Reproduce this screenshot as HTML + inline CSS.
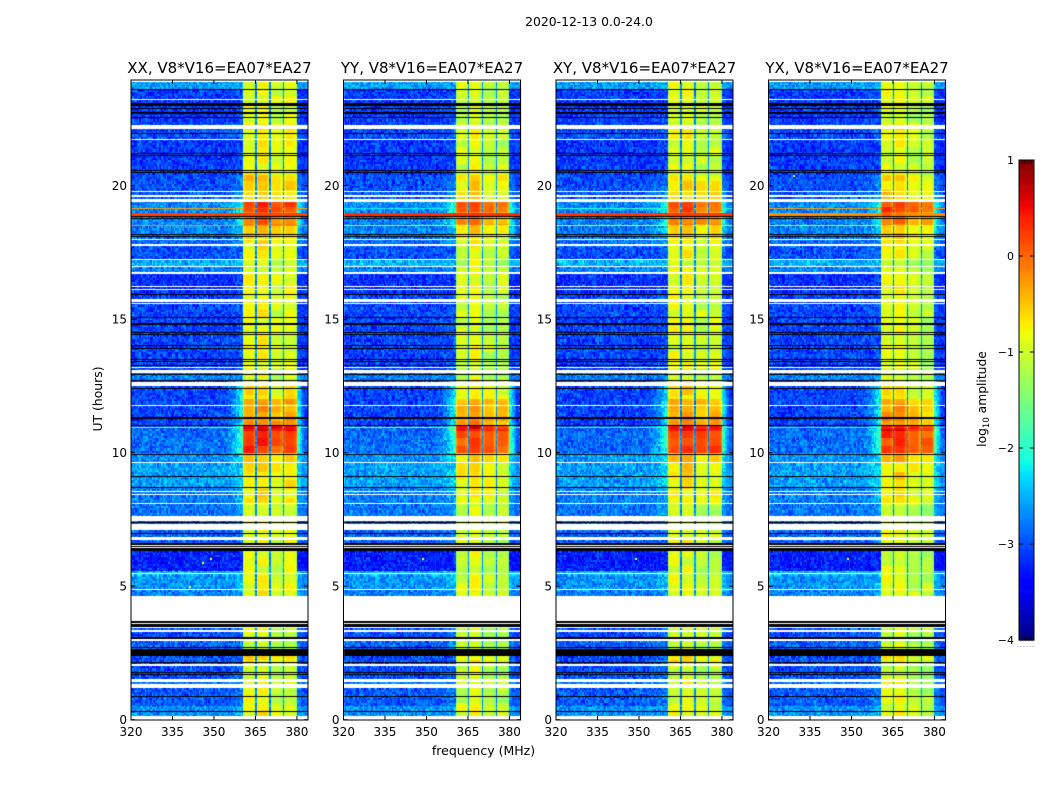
<!DOCTYPE html>
<html lang="en">
<head>
<meta charset="utf-8">
<title>2020-12-13 0.0-24.0</title>
<style>
html,body{margin:0;padding:0;background:#fff;width:1050px;height:800px;overflow:hidden}
#fig{position:relative;width:1050px;height:800px;background:#fff}
canvas{position:absolute;left:0;top:0}
svg{position:absolute;left:0;top:0}
text{font-family:"DejaVu Sans","Liberation Sans",sans-serif;fill:#000}
</style>
</head>
<body>
<div id="fig">
<canvas id="heat" width="1050" height="800"></canvas>
<svg id="ov" width="1050" height="800" viewBox="0 0 1050 800">
<text x="589" y="26" font-size="12.4" text-anchor="middle">2020-12-13 0.0-24.0</text>
<text x="483.500" y="755" font-size="12.5" text-anchor="middle">frequency (MHz)</text>
<text transform="translate(102,399) rotate(-90)" font-size="12.4" text-anchor="middle">UT (hours)</text>
<text transform="translate(986,399) rotate(-90)" font-size="12.3" text-anchor="middle">log<tspan font-size="8.5" dy="3">10</tspan><tspan dy="-3"> amplitude</tspan></text>
</svg>
</div>
<script>
// ---- axis data ----
const panelTitles = ["XX, V8*V16=EA07*EA27","YY, V8*V16=EA07*EA27","XY, V8*V16=EA07*EA27","YX, V8*V16=EA07*EA27"];
const freqTicks = [320,335,350,365,380];
const hourTicks = [0,5,10,15,20];
const colorbarTicks = [1,0,-1,-2,-3,-4];

// ---- time segments: start hour, off-band level, in-band level, leakage level near the band edge ----
const segStart = [0,0.5,1.2,1.5,2.1,2.4,2.6,3.05,3.3,4.62,4.85,5.4,5.55,6.4,7.6,8.1,8.7,9.1,9.6,10.0,10.77,11.0,11.3,12.0,12.7,13.0,15.9,16.7,16.95,17.2,17.7,18.1,18.5,19.0,19.5,19.8,20.4,21.0,21.7,22.3,23.0,23.6];
const offLevel = [-2.65,-2.95,-2.8,-3.0,-3.0,-3.2,-2.9,-3.0,-2.95,-2.75,-2.65,-2.5,-3.25,-2.9,-2.8,-2.75,-2.6,-2.6,-2.65,-2.85,-2.9,-3.05,-3.05,-3.05,-2.75,-3.05,-3.15,-2.75,-2.5,-3.0,-2.85,-2.75,-2.75,-2.7,-2.95,-3.0,-3.1,-3.1,-3.0,-3.1,-3.1,-2.6];
const bandLevel = [-0.85,-0.95,-0.9,-1.0,-0.7,-1.0,-1.05,-1.0,-0.95,-0.85,-0.9,-1.0,-0.95,-0.9,-1.0,-0.75,-0.7,-0.65,-0.5,0.22,0.5,-0.22,-0.35,-0.7,-0.95,-0.9,-0.85,-0.95,-1.0,-0.85,-0.75,-0.55,-0.12,0.15,-0.6,-0.6,-0.9,-0.9,-0.8,-1.0,-0.9,-0.9];
const leakLevel = [-2.5,-2.75,-2.6,-2.8,-2.8,-3.15,-2.7,-2.8,-2.75,-2.55,-2.4,-2.35,-3.2,-2.75,-2.55,-2.45,-2.25,-2.25,-2.15,-1.75,-1.65,-2.1,-2.0,-2.1,-2.6,-2.95,-3.05,-2.7,-2.45,-2.85,-2.55,-2.25,-2.0,-1.95,-2.6,-2.7,-3.0,-3.0,-2.85,-3.0,-3.0,-2.5];

// ---- flagged rows (hours) ----
const whiteStart = [0,1.18,1.40,2.00,2.96,3.28,3.44,3.60,3.66,4.81,5.41,6.42,6.52,6.72,7.10,7.43,8.07,8.39,8.50,9.59,11.74,12.45,12.98,13.03,13.16,15.54,15.63,16.08,16.20,16.65,16.95,17.19,17.75,17.96,19.38,19.53,19.76,21.72,22.12,23.20,23.88];
const whiteEnd = [0.09,1.29,1.50,2.08,3.03,3.33,3.476,3.625,4.625,4.87,5.45,6.48,6.55,6.84,7.32,7.64,8.11,8.43,8.54,9.63,11.78,12.64,13.02,13.07,13.20,15.58,15.75,16.12,16.24,16.76,16.99,17.23,17.79,18.00,19.49,19.61,19.80,21.76,22.28,23.24,24];
const blackHours = [0.28,0.85,1.70,1.76,2.12,2.68,3.05,6.97,7.36,8.71,9.10,9.94,11.03,11.12,11.29,12.42,12.70,12.94,13.24,13.43,13.50,13.88,14.03,14.40,14.49,14.83,15.06,15.94,18.09,18.18,18.78,18.85,20.49,20.58,21.12,21.20,21.93,22.40,22.52,22.71,22.75,22.88,23.62];
const blackBandStart = [2.39,3.476,3.625,6.31,6.48,6.55,23.00];
const blackBandEnd = [2.62,3.60,3.66,6.42,6.52,6.59,23.07];

// ---- bright full-width rows: hour, level for XX, YY, XY, YX ----
const brightHours = [10.92,18.90,18.94,19.12,18.48];
const brightXX = [-1.6,0.2,0.2,-0.3,-0.2];
const brightYY = [-1.4,0.3,0.3,-2.2,-1.2];
const brightXY = [-1.9,0.25,0.25,-2.0,-0.9];
const brightYX = [-2.0,-0.2,-0.2,-0.3,-1.0];

// ---- per-panel sub-band offsets for 360-365, 365-370, 370-375, 375-380 MHz ----
const subbandXX = [0.05,0.12,-0.1,0.02];
const subbandYY = [-0.08,0.08,-0.16,-0.2];
const subbandXY = [0.02,0.08,-0.12,-0.08];
const subbandYX = [0.02,0.07,-0.16,-0.2];

// ---- hand-typed speckle table for receiver noise ----
const speckle = [0.31,-0.72,0.12,0.85,-0.21,-0.54,0.44,-0.09,0.67,-0.93,0.18,-0.36,0.58,0.03,-0.68,0.26,-0.14,0.91,-0.47,0.07,-0.81,0.39,0.15,-0.28,0.73,-0.61,-0.02,0.49,-0.35,0.22,-0.88,0.62,0.09,-0.44,0.34,-0.17,0.79,-0.58,0.28,-0.05,-0.76,0.53,0.11,-0.31,0.96,-0.66,0.2,-0.12,0.42,-0.51,0.69,-0.24,0.05,-0.85,0.37,0.16,-0.39,0.57,-0.07,-0.63,0.83,-0.19,0.29,-0.98,0.47,0.01,-0.33,0.65,-0.55,0.24,-0.11,0.75,-0.42,0.13,-0.71,0.51,-0.26,0.35,-0.03,-0.59,0.88,-0.16,0.19,-0.48,0.61,-0.83,0.08,0.41,-0.23,-0.64,0.71,0.27,-0.37,0.04,-0.78,0.55,-0.15,0.33,-0.52,0.93,-0.08];

// ---- hot pixels: panel index, MHz, hour ----
const hotPanel = [0,0,0,1,2,3,3];
const hotFreq = [348.5,345.5,341.0,348.5,348.5,348.5,329.0];
const hotHour = [6.06,5.9,5.0,6.05,6.05,6.05,20.4];

// ---- layout ----
const panelLeft = [131,343.5,556,768.5];
const panelWidth = 177;
const axTop = 80, axBottom = 720;
const freqMin = 320, freqMax = 384;
const hourScale = 26.7;
const chanWidth = 0.5, rowHeight = 0.04;
const cbLeft = 1019, cbWidth = 15, cbTop = 160, cbBottom = 640;
const subbandTable = [subbandXX,subbandYY,subbandXY,subbandYX];
const brightTable = [brightXX,brightYY,brightXY,brightYX];

function xScale(p, f){ return panelLeft[p] + (f - freqMin) * panelWidth / (freqMax - freqMin); }
function yScale(h){ return 719.7 - h * hourScale; }
function cbScale(v){ return cbBottom - (v + 4) * (cbBottom - cbTop) / 5; }

function ramp(v, pts){
  for (let i = 1; i < pts.length; i++) {
    if (v <= pts[i][0]) {
      const a = pts[i-1], b = pts[i];
      return a[1] + (b[1] - a[1]) * (v - a[0]) / (b[0] - a[0]);
    }
  }
  return pts[pts.length-1][1];
}
function jet(level){
  const v = Math.max(0, Math.min(1, (level + 4) / 5));
  const r = ramp(v, [[0,0],[0.35,0],[0.66,1],[0.89,1],[1,0.5]]);
  const g = ramp(v, [[0,0],[0.125,0],[0.375,1],[0.64,1],[0.91,0],[1,0]]);
  const b = ramp(v, [[0,0.5],[0.11,1],[0.34,1],[0.65,0],[1,0]]);
  return 'rgb(' + Math.round(r*255) + ',' + Math.round(g*255) + ',' + Math.round(b*255) + ')';
}
function segmentIndex(h){
  let k = 0;
  for (let i = 0; i < segStart.length; i++) { if (h >= segStart[i]) k = i; }
  return k;
}
function rowState(h){
  for (let i = 0; i < whiteStart.length; i++) { if (h >= whiteStart[i] && h < whiteEnd[i]) return 'white'; }
  for (let i = 0; i < blackBandStart.length; i++) { if (h >= blackBandStart[i] && h < blackBandEnd[i]) return 'black'; }
  for (let i = 0; i < blackHours.length; i++) { if (blackHours[i] >= h && blackHours[i] < h + rowHeight) return 'black'; }
  return 'data';
}
function noiseAt(a, b, p){
  return speckle[Math.abs(a*a*3 + b*b*5 + a*b*7 + p*11) % speckle.length];
}
function cellLevel(p, f, r, c, k){
  const n = noiseAt(r >> 1, c, p);
  const off = offLevel[k];
  const inBand = f >= 360.4 && f < 380;
  if (inBand) {
    if (f === 365 || f === 370 || f === 375) return -2.7 + n * 0.25;
    const sb = Math.min(3, Math.floor((f - 360) / 5));
    const edgeLow = sb === 0 ? 360.4 : 360 + sb * 5;
    const d = Math.min(f + chanWidth - edgeLow, 360 + (sb + 1) * 5 - f);
    const dome = 0.45 * Math.max(0, 1 - d / 1.3);
    const patch = noiseAt(r >> 3, sb + 3, p) * 0.2;
    return bandLevel[k] + subbandTable[p][sb] + patch - dome + n * 0.05;
  }
  if (f >= 380) {
    const t = Math.max(0, 1 - (f - 380) / 2.5);
    return off - 0.05 + (leakLevel[k] - off) * t + n * 0.28;
  }
  if (f >= 352) {
    const t = (f - 352) / 8.4;
    return off + (leakLevel[k] - off) * t * t + n * 0.38;
  }
  return off + n * 0.42;
}

// ---- draw the heatmaps ----
const ctx = document.getElementById('heat').getContext('2d');
const nChan = Math.round((freqMax - freqMin) / chanWidth);
const nRow = Math.round(24 / rowHeight);
for (let p = 0; p < 4; p++) {
  for (let r = 0; r < nRow; r++) {
    const h = r * rowHeight;
    const state = rowState(h);
    if (state === 'white') continue;
    const y0 = Math.round(yScale(h + rowHeight));
    const y1 = Math.round(yScale(h));
    if (y1 <= axTop || y1 === y0) continue;
    if (state === 'black') {
      ctx.fillStyle = '#000';
      ctx.fillRect(Math.round(xScale(p, freqMin)), y0, panelWidth, y1 - y0);
      continue;
    }
    const k = segmentIndex(h);
    let bright = null;
    for (let b = 0; b < brightHours.length; b++) {
      if (brightHours[b] >= h && brightHours[b] < h + rowHeight) bright = brightTable[p][b];
    }
    for (let c = 0; c < nChan; c++) {
      const f = freqMin + c * chanWidth;
      let level = cellLevel(p, f, r, c, k);
      if (bright !== null && bright > level) level = bright;
      const x0 = Math.round(xScale(p, f));
      const x1 = Math.round(xScale(p, f + chanWidth));
      ctx.fillStyle = jet(level);
      ctx.fillRect(x0, y0, x1 - x0, y1 - y0);
    }
  }
  for (let i = 0; i < hotPanel.length; i++) {
    if (hotPanel[i] !== p) continue;
    ctx.fillStyle = jet(-0.8);
    ctx.fillRect(Math.round(xScale(p, hotFreq[i])), Math.round(yScale(hotHour[i])), 2, 2);
  }
}
// colour bar
const cbRows = 256;
for (let i = 0; i < cbRows; i++) {
  const lv = -4 + 5 * (i + 0.5) / cbRows;
  const y1 = cbScale(-4 + 5 * i / cbRows);
  const y0 = cbScale(-4 + 5 * (i + 1) / cbRows);
  ctx.fillStyle = jet(lv);
  ctx.fillRect(cbLeft, y0, cbWidth, y1 - y0 + 0.6);
}

// ---- SVG overlay ----
const ov = document.getElementById('ov');
const NS = 'http://www.w3.org/2000/svg';
function mk(tag, attrs){
  const el = document.createElementNS(NS, tag);
  for (const a in attrs) el.setAttribute(a, attrs[a]);
  ov.appendChild(el);
  return el;
}
for (let p = 0; p < 4; p++) {
  const L = panelLeft[p];
  const frame = mk('rect', {x:L, y:axTop, width:panelWidth, height:axBottom-axTop, fill:'none', stroke:'#000', 'stroke-width':1});
  
  
  const title = mk('text', {x:L+panelWidth/2, y:73, 'font-size':15, 'text-anchor':'middle'});
  title.textContent = panelTitles[p];
  
  
  freqTicks.forEach(function(f){
    const x = xScale(p, f);
    const t1 = mk('line', {x1:x, x2:x, y1:axBottom, y2:axBottom-4, stroke:'#000', 'stroke-width':1});
    
    
    const t2 = mk('line', {x1:x, x2:x, y1:axTop, y2:axTop+4, stroke:'#000', 'stroke-width':1});
    
    
    const lab = mk('text', {x:x, y:736, 'font-size':12, 'text-anchor':'middle'});
    lab.textContent = String(f);
    
    
  });
  hourTicks.forEach(function(h){
    const y = yScale(h);
    const t1 = mk('line', {x1:L, x2:L+4, y1:y, y2:y, stroke:'#000', 'stroke-width':1});
    
    
    const t2 = mk('line', {x1:L+panelWidth, x2:L+panelWidth-4, y1:y, y2:y, stroke:'#000', 'stroke-width':1});
    
    
    const lab = mk('text', {x:L-4, y:y+4.500, 'font-size':12, 'text-anchor':'end'});
    lab.textContent = String(h);
    
    
  });
}
const cbFrame = mk('rect', {x:cbLeft, y:cbTop, width:cbWidth, height:cbBottom-cbTop, fill:'none', stroke:'#000', 'stroke-width':1});


colorbarTicks.forEach(function(v){
  const y = cbScale(v);
  const t1 = mk('line', {x1:cbLeft, x2:cbLeft+4, y1:y, y2:y, stroke:'#000', 'stroke-width':1});
  
  
  const t2 = mk('line', {x1:cbLeft+cbWidth, x2:cbLeft+cbWidth-4, y1:y, y2:y, stroke:'#000', 'stroke-width':1});
  
  
  const lab = mk('text', {x:1014, y:y+4, 'font-size':11, 'text-anchor':'end'});
  lab.textContent = String(v).replace('-', '\u2212');
  
  
});
for (let i = 0; i < 6; i++) {
  const x = cbLeft + i * cbWidth / 5;
  const t3 = mk('line', {x1:x, x2:x, y1:cbBottom, y2:cbBottom-4, stroke:'#000', 'stroke-width':1});
  
  
  const t4 = mk('line', {x1:x, x2:x, y1:cbTop, y2:cbTop+4, stroke:'#000', 'stroke-width':1});
  
  
  const dot = mk('rect', {x:x-1.500, y:646, width:1, height:1, fill:'#999'});
  
  
}
</script>
</body>
</html>
